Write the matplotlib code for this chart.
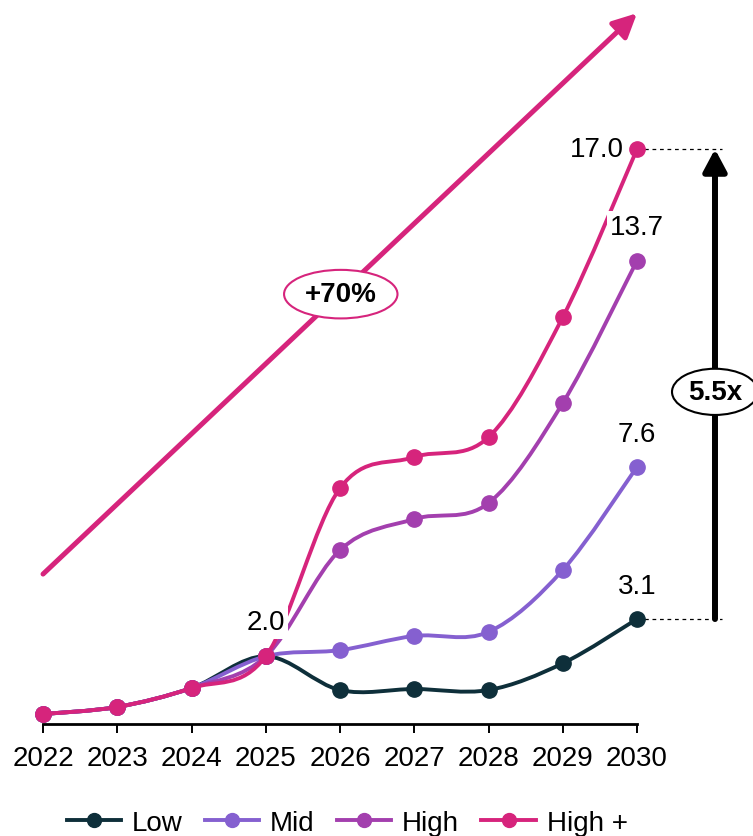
import numpy as np
import matplotlib
matplotlib.use("Agg")
import matplotlib.pyplot as plt
from matplotlib.path import Path
from matplotlib.patches import PathPatch
from matplotlib.lines import Line2D

plt.rcParams['font.family'] = ['Liberation Sans', 'DejaVu Sans']

years = [2022, 2023, 2024, 2025, 2026, 2027, 2028, 2029, 2030]
low = [0.29, 0.50, 1.06, 2.0, 1.00, 1.03, 1.00, 1.79, 3.1]
mid = [0.29, 0.50, 1.06, 2.0, 2.18, 2.60, 2.72, 4.55, 7.6]
high = [0.29, 0.50, 1.06, 2.0, 5.14, 6.06, 6.53, 9.49, 13.7]
high_plus = [0.29, 0.50, 1.06, 2.0, 6.97, 7.89, 8.48, 12.03, 17.0]

series_names = ["Low", "Mid", "High", "High +"]
colors = ["#0e2f3a", "#8560d0", "#a33fae", "#d6247c"]

growth_label = "+70%"
multiple_label = "5.5x"

FS = 20


def smooth_path(xs, ys):
    # bezier segments through every point (catmull-rom style tangents)
    pts = np.column_stack([xs, ys]).astype(float)
    n = len(pts)
    verts = [pts[0]]
    codes = [Path.MOVETO]
    for i in range(n - 1):
        p0 = pts[max(i - 1, 0)]
        p1 = pts[i]
        p2 = pts[i + 1]
        p3 = pts[min(i + 2, n - 1)]
        verts += [p1 + (p2 - p0) / 6, p2 - (p3 - p1) / 6, p2]
        codes += [Path.CURVE4] * 3
    return Path(verts, codes)


fig = plt.figure(figsize=(7.53, 8.37), dpi=100)
ax = fig.add_axes([0.0177, 0.134, 0.9762, 0.866])
ax.set_xlim(2021.6, 2031.5)
ax.set_ylim(0, 21.44)

for i, (vals, col) in enumerate(zip([low, mid, high, high_plus], colors)):
    ax.add_patch(PathPatch(smooth_path(years, vals), fill=False, edgecolor=col,
                           lw=2.8, zorder=2 + i, capstyle='round'))
    ax.plot(years, vals, ls='none', marker='o', ms=11, color=col, zorder=2 + i)

# overall growth arrow
ax.annotate("", xy=(2030, 21.02), xytext=(2022, 4.43),
            arrowprops=dict(arrowstyle='-|>,head_length=0.65,head_width=0.32',
                            color=colors[3], lw=3.6, mutation_scale=22,
                            shrinkA=0, shrinkB=0), zorder=1)
ax.text(2026.01, 12.71, growth_label, ha='center', va='center', fontsize=FS,
        fontweight='bold', zorder=10,
        bbox=dict(boxstyle='ellipse,pad=0.15', fc='white', ec=colors[3], lw=1.5))

# 2022 -> 2030 multiple between Low and High +
x_bar = 2031.05
ax.plot([2030, x_bar + 0.1], [high_plus[-1]] * 2, ls=(0, (3, 3)), color='black', lw=0.9, zorder=1)
ax.plot([2030, x_bar + 0.1], [low[-1]] * 2, ls=(0, (3, 3)), color='black', lw=0.9, zorder=1)
ax.annotate("", xy=(x_bar, high_plus[-1]), xytext=(x_bar, low[-1]),
            arrowprops=dict(arrowstyle='-|>,head_length=0.6,head_width=0.32',
                            color='black', lw=4.3, mutation_scale=22,
                            shrinkA=0, shrinkB=0), zorder=3)
ax.text(x_bar, 9.82, multiple_label, ha='center', va='center', fontsize=FS,
        fontweight='bold', zorder=10,
        bbox=dict(boxstyle='ellipse,pad=0.12', fc='white', ec='black', lw=1.5))

# value labels
label_box = dict(boxstyle='square,pad=0.12', fc='white', ec='none')
ax.annotate(f"{high_plus[-1]:.1f}", (2030, high_plus[-1]), xytext=(-29, 0),
            textcoords='offset points', ha='center', va='center', fontsize=FS,
            bbox=label_box, zorder=9)
for vals in [high, mid, low]:
    ax.annotate(f"{vals[-1]:.1f}", (2030, vals[-1]), xytext=(0, 24),
                textcoords='offset points', ha='center', va='center',
                fontsize=FS, bbox=label_box, zorder=9)
ax.annotate(f"{low[3]:.1f}", (2025, low[3]), xytext=(0, 24.5),
            textcoords='offset points', ha='center', va='center', fontsize=FS,
            bbox=label_box, zorder=9)

for side in ['top', 'right', 'left']:
    ax.spines[side].set_visible(False)
ax.spines['bottom'].set_bounds(2022, 2030)
ax.spines['bottom'].set_linewidth(2)
ax.set_xticks(years)
ax.set_xticklabels([str(y) for y in years], fontsize=FS)
ax.tick_params(axis='x', length=6.5, width=1.4, pad=8.5)
ax.set_yticks([])

handles = [Line2D([], [], color=c, lw=2.8, marker='o', ms=10) for c in colors]
fig.legend(handles, series_names, loc='center', bbox_to_anchor=(0.461, 0.0155),
           ncol=4, frameon=False, fontsize=FS, handlelength=1.95,
           handletextpad=0.4, columnspacing=0.8)

fig.savefig("out.png", dpi=100)
